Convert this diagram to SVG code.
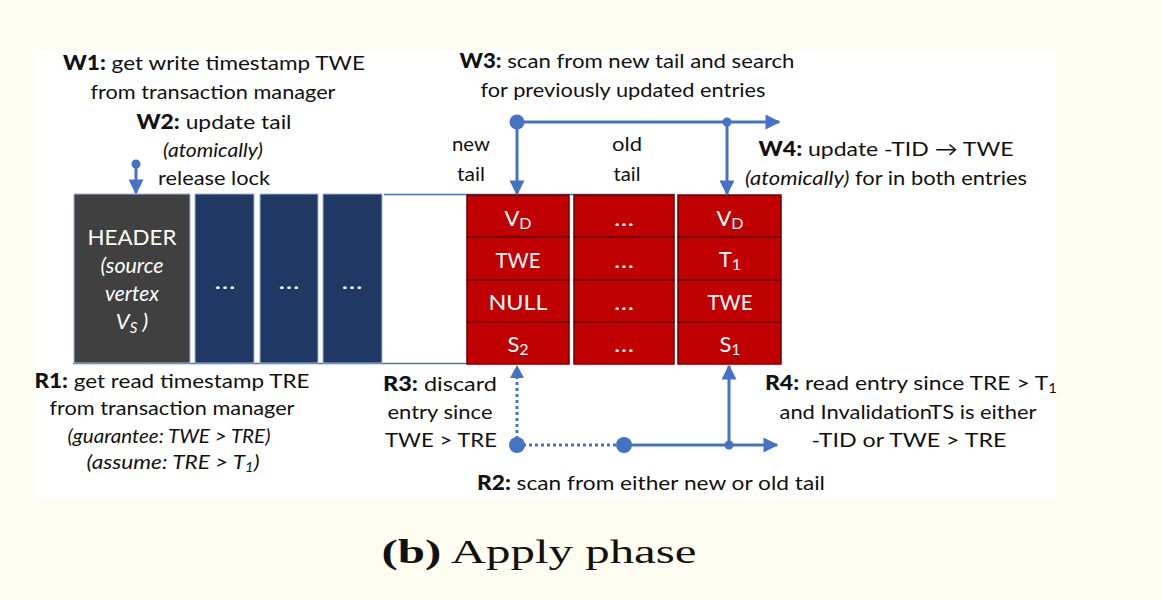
<svg xmlns="http://www.w3.org/2000/svg" width="1162" height="600" viewBox="0 0 1162 600">
<defs>
<style>
text{font-family:Lato,"Open Sans","Liberation Sans",sans-serif;font-size:20px;fill:#111;text-anchor:middle}
.b{font-weight:900}
.i{font-style:italic}
.w{fill:#fff;font-size:22px}
.blue{stroke:#4472c4;stroke-width:3;fill:none}
.dot{stroke:#4472c4;stroke-width:3;fill:none;stroke-dasharray:3 3}
.red{fill:#c00000;stroke:#6b0000;stroke-width:1.5}
.navy{fill:#1f3864;stroke:#9db3dd;stroke-width:1}
.cap{font-family:"Liberation Serif","DejaVu Serif",serif;font-size:34px;fill:#111}
</style>
<marker id="ah" viewBox="0 0 10 10" refX="9" refY="5" markerWidth="5.5" markerHeight="5" orient="auto" markerUnits="strokeWidth"><path d="M0,0 L10,5 L0,10 z" fill="#4472c4"/></marker>
</defs>
<rect x="0" y="0" width="1162" height="600" fill="#fefdef"/>
<rect x="34" y="50" width="1022" height="448" fill="#ffffff"/>

<g id="frame">
<line x1="384" y1="194.5" x2="675" y2="194.5" stroke="#4472c4" stroke-width="1.5"/>
<line x1="73" y1="363.5" x2="468" y2="363.5" stroke="#4472c4" stroke-width="1.5"/>
</g>

<g id="header">
<rect x="74" y="194" width="116" height="169" fill="#404040" stroke="#9db3dd" stroke-width="1"/>
<text class="w" x="132" y="245" textLength="89" lengthAdjust="spacingAndGlyphs">HEADER</text>
<text class="w i" x="132" y="273" textLength="63" lengthAdjust="spacingAndGlyphs">(source</text>
<text class="w i" x="132" y="301" textLength="54" lengthAdjust="spacingAndGlyphs">vertex</text>
<text class="w i" x="132" y="329">V<tspan font-size="15" dy="4">S</tspan><tspan dy="-4"> )</tspan></text>
</g>
<g id="slot1"><rect class="navy" x="195" y="194" width="59" height="169"/><text class="w" x="225" y="289" textLength="21" lengthAdjust="spacingAndGlyphs">…</text></g>
<g id="slot2"><rect class="navy" x="260" y="194" width="58" height="169"/><text class="w" x="289" y="289" textLength="21" lengthAdjust="spacingAndGlyphs">…</text></g>
<g id="slot3"><rect class="navy" x="323" y="194" width="59" height="169"/><text class="w" x="352" y="289" textLength="21" lengthAdjust="spacingAndGlyphs">…</text></g>

<g id="entry-new">
<rect class="red" x="467" y="195" width="102" height="42"/>
<rect class="red" x="467" y="237" width="102" height="43"/>
<rect class="red" x="467" y="280" width="102" height="42"/>
<rect class="red" x="467" y="322" width="102" height="42"/>
<text class="w" x="518" y="226">V<tspan font-size="16" dy="3">D</tspan></text>
<text class="w" x="518" y="268" textLength="45" lengthAdjust="spacingAndGlyphs">TWE</text>
<text class="w" x="518" y="310" textLength="59" lengthAdjust="spacingAndGlyphs">NULL</text>
<text class="w" x="518" y="352">S<tspan font-size="16" dy="3">2</tspan></text>
</g>
<g id="entry-mid">
<rect class="red" x="574" y="195" width="100" height="42"/>
<rect class="red" x="574" y="237" width="100" height="43"/>
<rect class="red" x="574" y="280" width="100" height="42"/>
<rect class="red" x="574" y="322" width="100" height="42"/>
<text class="w" x="624" y="226" textLength="20" lengthAdjust="spacingAndGlyphs">…</text>
<text class="w" x="624" y="268" textLength="20" lengthAdjust="spacingAndGlyphs">…</text>
<text class="w" x="624" y="310" textLength="20" lengthAdjust="spacingAndGlyphs">…</text>
<text class="w" x="624" y="352" textLength="20" lengthAdjust="spacingAndGlyphs">…</text>
</g>
<g id="entry-old">
<rect class="red" x="678" y="195" width="103" height="42"/>
<rect class="red" x="678" y="237" width="103" height="43"/>
<rect class="red" x="678" y="280" width="103" height="42"/>
<rect class="red" x="678" y="322" width="103" height="42"/>
<text class="w" x="730" y="226">V<tspan font-size="16" dy="3">D</tspan></text>
<text class="w" x="730" y="267">T<tspan font-size="16" dy="3">1</tspan></text>
<text class="w" x="730" y="310" textLength="45" lengthAdjust="spacingAndGlyphs">TWE</text>
<text class="w" x="730" y="352">S<tspan font-size="16" dy="3">1</tspan></text>
</g>

<g id="connectors">
<circle cx="136" cy="164" r="4.5" fill="#4472c4"/>
<line class="blue" x1="136" y1="164" x2="136" y2="193" marker-end="url(#ah)" stroke-width="2"/>
<line class="blue" x1="517" y1="122" x2="779" y2="122" marker-end="url(#ah)"/>
<circle cx="517" cy="122" r="7.5" fill="#4472c4"/>
<circle cx="727" cy="122" r="4.5" fill="#4472c4"/>
<line class="blue" x1="517" y1="122" x2="517" y2="194" marker-end="url(#ah)" stroke-width="2.5"/>
<line class="blue" x1="727" y1="122" x2="727" y2="194" marker-end="url(#ah)" stroke-width="2.5"/>
<line class="dot" x1="517" y1="445" x2="624" y2="445"/>
<line class="dot" x1="517" y1="445" x2="517" y2="376"/>
<path d="M510,378 L517,365 L524,378 z" fill="#4472c4"/>
<line class="blue" x1="624" y1="445" x2="777" y2="445" marker-end="url(#ah)"/>
<line class="blue" x1="729" y1="445" x2="729" y2="366" marker-end="url(#ah)" stroke-width="2.5"/>
<circle cx="517" cy="445" r="8" fill="#4472c4"/>
<circle cx="624" cy="445" r="8" fill="#4472c4"/>
<circle cx="729" cy="445" r="4.5" fill="#4472c4"/>
</g>

<g id="labels-w">
<text x="214" y="70" textLength="302" lengthAdjust="spacingAndGlyphs"><tspan class="b">W1:</tspan> get write timestamp TWE</text>
<text x="213" y="99" textLength="245" lengthAdjust="spacingAndGlyphs">from transaction manager</text>
<text x="214" y="129" textLength="155" lengthAdjust="spacingAndGlyphs"><tspan class="b">W2:</tspan> update tail</text>
<text class="i" x="213" y="157" textLength="100" lengthAdjust="spacingAndGlyphs">(atomically)</text>
<text x="214" y="185" textLength="112" lengthAdjust="spacingAndGlyphs">release lock</text>
<text x="627" y="68" textLength="335" lengthAdjust="spacingAndGlyphs"><tspan class="b">W3:</tspan> scan from new tail and search</text>
<text x="623" y="97" textLength="285" lengthAdjust="spacingAndGlyphs">for previously updated entries</text>
<text x="471" y="151" textLength="38" lengthAdjust="spacingAndGlyphs">new</text>
<text x="471" y="181" textLength="28" lengthAdjust="spacingAndGlyphs">tail</text>
<text x="627" y="151" textLength="30" lengthAdjust="spacingAndGlyphs">old</text>
<text x="627" y="181" textLength="27" lengthAdjust="spacingAndGlyphs">tail</text>
<text x="886" y="156" textLength="255" lengthAdjust="spacingAndGlyphs"><tspan class="b">W4:</tspan> update -TID → TWE</text>
<text x="886" y="185" textLength="282" lengthAdjust="spacingAndGlyphs"><tspan class="i">(atomically)</tspan> for in both entries</text>
</g>
<g id="labels-r">
<text x="172" y="388" textLength="275" lengthAdjust="spacingAndGlyphs"><tspan class="b">R1:</tspan> get read timestamp TRE</text>
<text x="172" y="415" textLength="245" lengthAdjust="spacingAndGlyphs">from transaction manager</text>
<text class="i" x="169" y="443" textLength="203" lengthAdjust="spacingAndGlyphs">(guarantee: TWE &gt; TRE)</text>
<text class="i" x="173" y="469" textLength="173" lengthAdjust="spacingAndGlyphs">(assume: TRE &gt; T<tspan font-size="13" dy="3">1</tspan><tspan dy="-3">)</tspan></text>
<text x="440" y="391" textLength="114" lengthAdjust="spacingAndGlyphs"><tspan class="b">R3:</tspan> discard</text>
<text x="440" y="419" textLength="105" lengthAdjust="spacingAndGlyphs">entry since</text>
<text x="441" y="447" textLength="112" lengthAdjust="spacingAndGlyphs">TWE &gt; TRE</text>
<text x="651" y="490" textLength="348" lengthAdjust="spacingAndGlyphs"><tspan class="b">R2:</tspan> scan from either new or old tail</text>
<text x="911" y="390" textLength="292" lengthAdjust="spacingAndGlyphs"><tspan class="b">R4:</tspan> read entry since TRE &gt; T<tspan font-size="13" dy="3">1</tspan></text>
<text x="908" y="419" textLength="257" lengthAdjust="spacingAndGlyphs">and InvalidationTS is either</text>
<text x="909" y="447" textLength="195" lengthAdjust="spacingAndGlyphs">-TID or TWE &gt; TRE</text>
</g>
<text class="cap" x="539" y="563" textLength="315" lengthAdjust="spacingAndGlyphs"><tspan font-weight="bold">(b)</tspan>  Apply phase</text>
</svg>
